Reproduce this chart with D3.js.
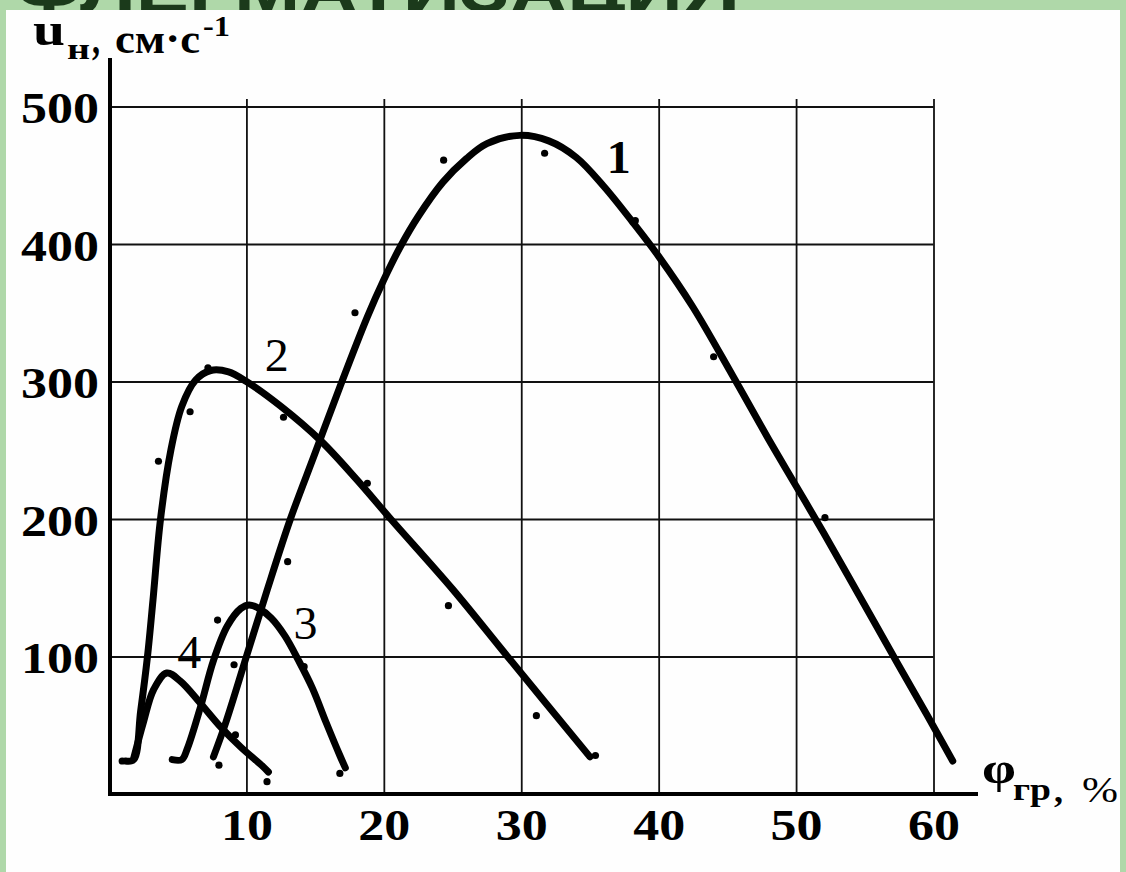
<!DOCTYPE html>
<html>
<head>
<meta charset="utf-8">
<script src="https://cdn.jsdelivr.net/npm/d3@7"></script>
<style>
  body { margin: 0; background: #afd8a9; }
  svg { display: block; }
  .grid line { stroke: #111; stroke-width: 1.8; }
  .grid path { display: none; }
  .lbl text { font-family: "Liberation Serif", "Times New Roman", Times, serif; font-weight: bold; font-size: 44px; fill: #000; }
  .lbl path, .lbl line { display: none; }
</style>
</head>
<body>
<svg width="1126" height="872"></svg>
<script>
// значения (φгр в %, uн в см/с)
var xTicks = [10, 20, 30, 40, 50, 60];
var yTicks = [100, 200, 300, 400, 500];

var curve1 = [[7.6,27],[8.5,52],[10,100],[11.5,148],[13.2,200],[15,248],[16.8,296],[18.8,347],[20,374],[21.2,398],
  [22.5,420],[24.3,445],[26,462],[27.5,473],[29.9,479],[32,475],[34,463],[36,442],[38.1,416],[40,391],[42.5,354],
  [45.4,304],[48,258],[50,224],[52,190],[54.5,146],[57.1,100],[59.5,58],[61.4,24]];
var curve2 = [[1.2,24],[1.8,25],[2.3,60],[2.8,100],[3.2,141],[3.75,200],[4.5,250],[5.3,282],[6.3,301],[7.4,308],
  [8.7,307],[10,300],[12.5,282],[15.4,257],[18,229],[20.5,200],[25,149],[29,100],[35,27]];
var curve3 = [[4.6,25],[5.3,25],[5.7,33],[6.65,63],[7.6,97],[8.6,122],[9.6,135],[10.2,137.5],[10.9,135],[11.8,128],
  [12.8,115],[13.8,97],[14.8,77],[15.8,52],[16.8,28],[17.2,19]];
var curve4 = [[1.8,26],[2.5,52],[3.25,76],[4.2,88],[5.2,82],[6.65,66],[8.1,49],[9.6,34],[11.2,20],[11.6,16]];

// опытные точки
var dots = [[8,21],[9.1,94],[13,169],[17.9,350],[24.35,461],[31.7,466],[38.3,417],[44,318],[52.1,201],
  [0.96,24],[3.6,242],[5.9,278],[7.2,310],[12.7,274],[18.8,226],[24.7,137],[31.1,57],[35.4,28],
  [7.9,126.5],[14.2,92.6],[16.8,15],
  [9.2,43],[11.5,9]];

var curveNames = ["1", "2", "3", "4"];
var curveLabelPos = [[37.1,452],[12.2,308],[14.3,113],[5.85,92]];

var svg = d3.select("svg");

// белый лист на зелёном фоне
svg.append("rect").attr("x", 6).attr("y", 10).attr("width", 1114).attr("height", 870).attr("fill", "#fefefe");

// обрезанный заголовок слайда сверху
svg.append("clipPath").attr("id", "topclip")
  .append("rect").attr("x", 0).attr("y", 0).attr("width", 1126).attr("height", 10);
svg.append("text")
  .attr("clip-path", "url(#topclip)")
  .attr("x", 15).attr("y", 12)
  .attr("textLength", 725).attr("lengthAdjust", "spacingAndGlyphs")
  .style("font-family", "'Liberation Sans', Arial, sans-serif").style("font-weight", "bold").style("font-size", "64px")
  .style("fill", "#1b3a1b")
  .text("ФЛЕГМАТИЗАЦИЯ");

var x = d3.scaleLinear().domain([0, 60]).range([109, 933.5]),
    y = d3.scaleLinear().domain([0, 500]).range([794, 106.5]);

// сетка
svg.append("g").attr("class", "grid")
  .attr("transform", "translate(0," + y(0) + ")")
  .call(d3.axisBottom(x).tickValues(xTicks).tickSize(-(y(0) - 99)).tickFormat(""));
svg.append("g").attr("class", "grid")
  .attr("transform", "translate(" + x(0) + ",0)")
  .call(d3.axisLeft(y).tickValues(yTicks).tickSize(-(x(60) - x(0))).tickFormat(""));

// оси
svg.append("line").attr("x1", 110).attr("x2", 110).attr("y1", 58).attr("y2", 796)
  .attr("stroke", "#000").attr("stroke-width", 4);
svg.append("line").attr("x1", 108).attr("x2", 978).attr("y1", 794).attr("y2", 794)
  .attr("stroke", "#000").attr("stroke-width", 4);

// подписи делений
var xl = svg.append("g").attr("class", "lbl")
  .attr("transform", "translate(0," + y(0) + ")")
  .call(d3.axisBottom(x).tickValues(xTicks).tickSize(0));
xl.selectAll("text").attr("y", 46).attr("dy", 0)
  .attr("textLength", function (d) { return String(d).length * 26; })
  .attr("lengthAdjust", "spacingAndGlyphs");

var yl = svg.append("g").attr("class", "lbl")
  .attr("transform", "translate(" + x(0) + ",0)")
  .call(d3.axisLeft(y).tickValues(yTicks).tickSize(0));
yl.selectAll("text").attr("x", -10).attr("dy", 16)
  .attr("textLength", function (d) { return String(d).length * 26; })
  .attr("lengthAdjust", "spacingAndGlyphs");

// кривые
var line = d3.line()
  .x(function (d) { return x(d[0]); })
  .y(function (d) { return y(d[1]); })
  .curve(d3.curveCatmullRom.alpha(0.5));

svg.selectAll(".curve")
  .data([curve1, curve2, curve3, curve4])
  .enter().append("path")
  .attr("class", "curve")
  .attr("d", line)
  .attr("fill", "none")
  .attr("stroke", "#000")
  .attr("stroke-width", 7)
  .attr("stroke-linecap", "round")
  .attr("stroke-linejoin", "round");

svg.selectAll(".dot")
  .data(dots)
  .enter().append("circle")
  .attr("class", "dot")
  .attr("cx", function (d) { return x(d[0]); })
  .attr("cy", function (d) { return y(d[1]); })
  .attr("r", 3.6)
  .attr("fill", "#000");

// номера кривых
svg.selectAll(".cname")
  .data(curveNames)
  .enter().append("text")
  .attr("class", "cname")
  .attr("x", function (d, i) { return x(curveLabelPos[i][0]); })
  .attr("y", function (d, i) { return y(curveLabelPos[i][1]); })
  .attr("text-anchor", "middle")
  .attr("textLength", 24).attr("lengthAdjust", "spacingAndGlyphs")
  .style("font-family", "'Liberation Serif', 'Times New Roman', serif")
  .style("font-weight", function (d) { return d === "1" ? "bold" : "normal"; })
  .style("font-size", "46px")
  .text(function (d) { return d; });

// подписи осей
function ttl(tx, ty, size, w, weight, s) {
  svg.append("text").attr("x", tx).attr("y", ty)
    .attr("textLength", w).attr("lengthAdjust", "spacingAndGlyphs")
    .style("font-family", "'Liberation Serif', 'Times New Roman', serif")
    .style("font-weight", weight).style("font-size", size + "px")
    .text(s);
}
ttl(33, 45, 46, 32, "bold", "u");
ttl(67, 59, 30, 23, "bold", "н");
ttl(92, 54, 44, 8, "bold", ",");
ttl(115, 53, 42, 85, "bold", "см·с");
ttl(203, 36, 30, 27, "bold", "-1");

ttl(982, 783, 44, 34, "bold", "φ");
ttl(1013, 800, 32, 38, "bold", "гр");
ttl(1054, 802, 34, 9, "bold", ",");
ttl(1082, 802, 36, 36, "normal", "%");
</script>
</body>
</html>
